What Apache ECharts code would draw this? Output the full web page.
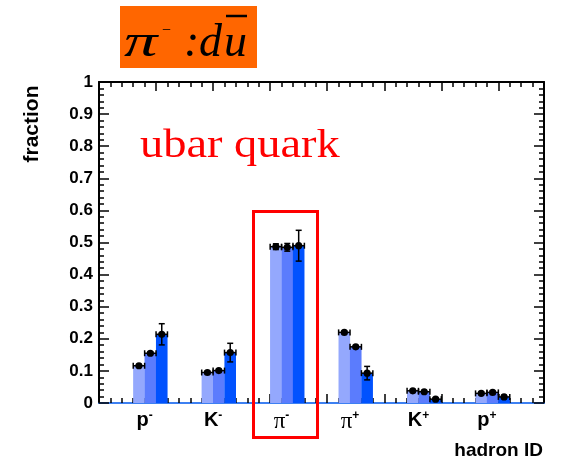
<!DOCTYPE html>
<html>
<head>
    <meta charset="utf-8">
    <title>ubar quark</title>
    <script src="https://cdn.jsdelivr.net/npm/echarts@6/dist/echarts.min.js"></script>
</head>
<body style="margin:0">
<div id="main" style="width: 561px;height:463px;"></div>
<script type="text/javascript">
// hadron categories, axis label markup
var hadrons = ['p-', 'K-', 'pi-', 'pi+', 'K+', 'p+'];
var hadronLabels = ['{b|p}{sup|-}', '{b|K}{sup|-}', '{pi|π}{sup|-}', '{pi|π}{sup|+}', '{b|K}{sup|+}', '{b|p}{sup|+}'];

// three bins per hadron (light, mid, dark)
var frac1 = [0.116, 0.095, 0.487, 0.220, 0.038, 0.030];
var err1  = [0.004, 0.004, 0.009, 0.004, 0.004, 0.004];
var frac2 = [0.155, 0.101, 0.485, 0.175, 0.035, 0.033];
var err2  = [0.004, 0.004, 0.012, 0.004, 0.004, 0.004];
var frac3 = [0.214, 0.157, 0.490, 0.093, 0.012, 0.019];
var err3  = [0.033, 0.029, 0.048, 0.021, 0.004, 0.005];

var colors = ['#94a8fd', '#5b7cfd', '#0152fe'];

// histogram has 39 bins, 6 per hadron, group starts at bin 3
var NBINS = 39;
function binOf(i, j) { return 3.5 + 6 * i + j; }

function barData(vals, j) {
    return vals.map(function (v, i) { return [binOf(i, j), v]; });
}
function errData(vals, errs, j) {
    return vals.map(function (v, i) { return [binOf(i, j), v, errs[i]]; });
}

function renderErr(params, api) {
    var x = api.value(0), y = api.value(1), e = api.value(2);
    var c = api.coord([x, y]);
    var t = api.coord([x, y + e]);
    var b = api.coord([x, y - e]);
    var l = api.coord([x - 0.5, y]);
    var r = api.coord([x + 0.5, y]);
    var st = { stroke: '#000', lineWidth: 1.5 };
    var cap = 3;
    return {
        type: 'group',
        children: [
            { type: 'line', shape: { x1: t[0], y1: t[1], x2: b[0], y2: b[1] }, style: st },
            { type: 'line', shape: { x1: t[0] - cap, y1: t[1], x2: t[0] + cap, y2: t[1] }, style: st },
            { type: 'line', shape: { x1: b[0] - cap, y1: b[1], x2: b[0] + cap, y2: b[1] }, style: st },
            { type: 'line', shape: { x1: l[0], y1: l[1], x2: r[0], y2: r[1] }, style: st },
            { type: 'line', shape: { x1: l[0], y1: l[1] - cap, x2: l[0], y2: l[1] + cap }, style: st },
            { type: 'line', shape: { x1: r[0], y1: r[1] - cap, x2: r[0], y2: r[1] + cap }, style: st },
            { type: 'circle', shape: { cx: c[0], cy: c[1], r: 3.6 }, style: { fill: '#000' } }
        ]
    };
}

// ROOT style frame: ticks point into the plot on all four sides
function frameX(pos, lineColor) {
    return {
        type: 'value', min: 0, max: NBINS, interval: 5, position: pos,
        axisLine: { onZero: false, lineStyle: { color: lineColor, width: 2 } },
        axisTick: { inside: true, length: 9, lineStyle: { color: '#000', width: 1.5 } },
        minorTick: { show: true, splitNumber: 5, length: 5, lineStyle: { color: '#000', width: 1.5 } },
        axisLabel: { show: false }, splitLine: { show: false }
    };
}
function frameY(pos, label) {
    return {
        type: 'value', min: 0, max: 1, interval: 0.1, position: pos,
        axisLine: { show: true, onZero: false, lineStyle: { color: '#000', width: 2 } },
        axisTick: { inside: true, length: 10, lineStyle: { color: '#000', width: 1.5 } },
        minorTick: { show: true, splitNumber: 5, length: 5, lineStyle: { color: '#000', width: 1.5 } },
        axisLabel: label ? {
            fontFamily: 'Liberation Sans', fontWeight: 'bold', fontSize: 17, color: '#000', margin: 6,
            formatter: function (v) { return v === 0 || v === 1 ? String(v) : v.toFixed(1); }
        } : { show: false },
        splitLine: { show: false }
    };
}

var myChart = echarts.init(document.getElementById('main'));
var option = {
    animation: false,
    grid: { left: 99, right: 17, top: 82, bottom: 60 },
    xAxis: [
        frameX('bottom', '#3d80f2'),
        frameX('top', '#000'),
        {
            type: 'value', min: 0, max: NBINS, interval: 1, position: 'bottom',
            axisLine: { show: false, onZero: false },
            axisTick: { show: false },
            splitLine: { show: false },
            axisLabel: {
                margin: 7,
                formatter: function (v) {
                    var k = (v - 4) / 6;
                    if (k >= 0 && k < hadrons.length && Math.round(k) === k) return hadronLabels[k];
                    return '';
                },
                rich: {
                    b: { fontFamily: 'Liberation Sans', fontWeight: 'bold', fontSize: 20, color: '#000' },
                    pi: { fontFamily: 'Liberation Serif', fontSize: 23, color: '#000' },
                    sup: { fontFamily: 'Liberation Sans', fontWeight: 'bold', fontSize: 12, color: '#000', verticalAlign: 'top' }
                }
            }
        }
    ],
    yAxis: [
        frameY('left', true),
        frameY('right', false)
    ],
    series: [
        { type: 'bar', data: barData(frac1, 0), barWidth: 11.6, barGap: '-100%', itemStyle: { color: colors[0] } },
        { type: 'bar', data: barData(frac2, 1), barWidth: 11.6, barGap: '-100%', itemStyle: { color: colors[1] } },
        { type: 'bar', data: barData(frac3, 2), barWidth: 11.6, barGap: '-100%', itemStyle: { color: colors[2] } },
        { type: 'custom', renderItem: renderErr, data: errData(frac1, err1, 0), z: 5 },
        { type: 'custom', renderItem: renderErr, data: errData(frac2, err2, 1), z: 5 },
        { type: 'custom', renderItem: renderErr, data: errData(frac3, err3, 2), z: 5 }
    ],
    graphic: [
        { type: 'rect', shape: { x: 120, y: 6, width: 137, height: 62 }, style: { fill: '#ff6600' } },
        { type: 'text', x: 124, y: 44, scaleX: 1.45, style: { text: 'π', verticalAlign: 'middle', font: 'italic 46px "Liberation Serif"', fill: '#000' } },
        { type: 'text', style: { text: '−', x: 162, y: 31, verticalAlign: 'middle', font: '16px "Liberation Serif"', fill: '#000' } },
        { type: 'text', style: { text: ':', x: 184, y: 44, verticalAlign: 'middle', font: 'italic 46px "Liberation Serif"', fill: '#000' } },
        { type: 'text', style: { text: 'd', x: 199, y: 44, verticalAlign: 'middle', font: 'italic 46px "Liberation Serif"', fill: '#000' } },
        { type: 'text', style: { text: 'u', x: 224, y: 44, verticalAlign: 'middle', font: 'italic 46px "Liberation Serif"', fill: '#000' } },
        { type: 'line', shape: { x1: 226, y1: 16, x2: 247, y2: 16 }, style: { stroke: '#000', lineWidth: 2.5 } },
        { type: 'text', x: 140, y: 146, scaleX: 1.16, style: { text: 'ubar quark', verticalAlign: 'middle', font: '40px "Liberation Serif"', fill: '#ff0000' } },
        { type: 'text', rotation: Math.PI / 2, x: 32, y: 124, style: { text: 'fraction', align: 'center', verticalAlign: 'middle', font: 'bold 21px "Liberation Sans"', fill: '#000' } },
        { type: 'text', style: { text: 'hadron ID', x: 543, y: 451, align: 'right', verticalAlign: 'middle', font: 'bold 19px "Liberation Sans"', fill: '#000' } },
        { type: 'rect', z: 100, shape: { x: 253.5, y: 211.5, width: 64, height: 226 }, style: { fill: 'none', stroke: '#ff0000', lineWidth: 3 } }
    ]
};
myChart.setOption(option);
window.onresize = function () {
    myChart.resize();
};
</script>
</body>
</html>
